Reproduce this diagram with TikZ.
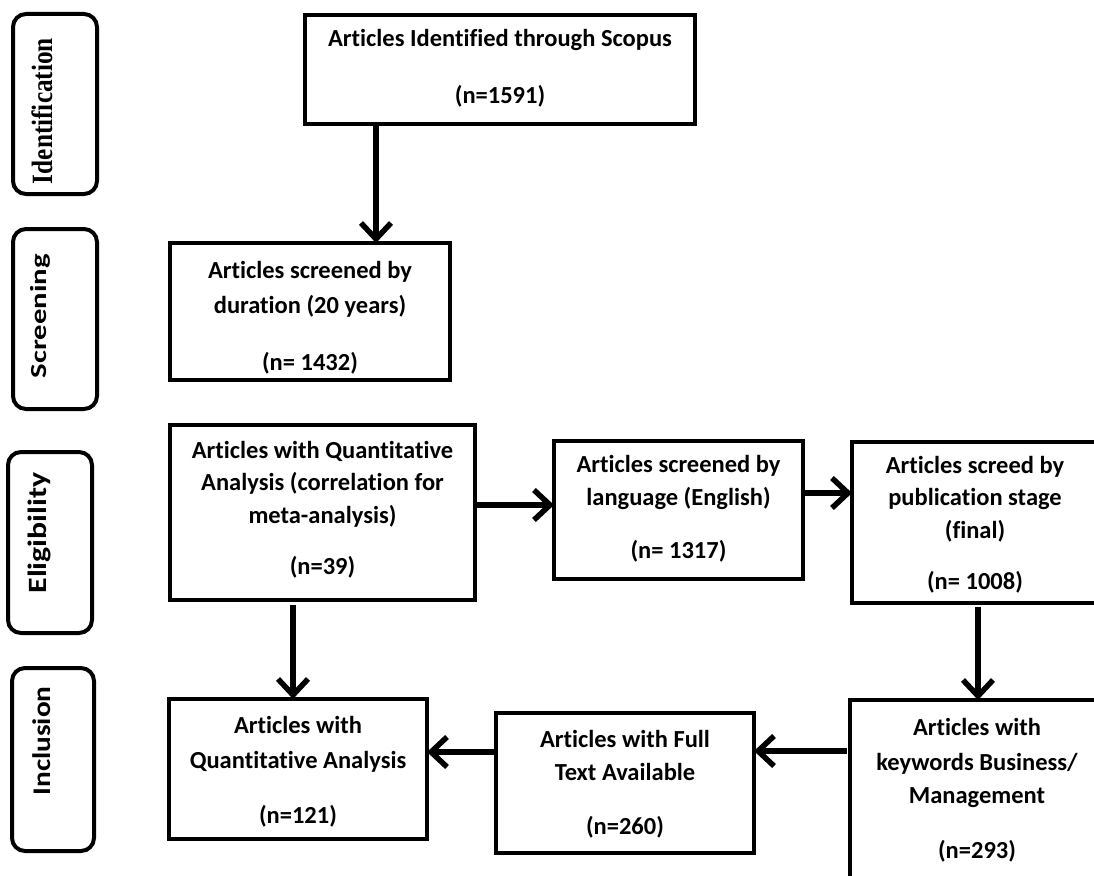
\documentclass[tikz,border=0pt]{standalone}
\usepackage{fontspec}
\setmainfont{Carlito}[Ligatures=NoCommon]
\newfontfamily\serifb{Liberation Serif}
\usetikzlibrary{arrows.meta}
\begin{document}
\begin{tikzpicture}[x=1pt,y=-1pt,
  box/.style={draw=black, line width=4pt, inner sep=0pt, outer sep=0pt},
  side/.style={draw=black, line width=4pt, rounded corners=13pt, inner sep=0pt, outer sep=0pt},
  txt/.style={inner sep=0pt, outer sep=0pt, anchor=base, font=\fontsize{24.5}{28}\selectfont\bfseries, text=black},
  stxt/.style={inner sep=0pt, outer sep=0pt, rotate=90, text=black},
  arr/.style={line width=5.5pt, -{Straight Barb[length=16pt,width=30pt]}}]
\useasboundingbox[fill=white] (0,0) rectangle (1094,875);
\clip (0,0) rectangle (1094,875);

% side labels
\node[side, minimum width=84pt, minimum height=180pt] (sIdent) at (55,104) {};
\node[side, minimum width=84pt, minimum height=180pt] (sScreen) at (55,319) {};
\node[side, minimum width=84pt, minimum height=181pt] (sElig) at (50,542.5) {};
\node[side, minimum width=82pt, minimum height=183pt] (sIncl) at (53,759.5) {};
\node[stxt] (tIdent) at (42,111) {\resizebox*{146pt}{21pt}{\serifb\bfseries Identification}};
\node[stxt] (tScreen) at (40,316) {\resizebox*{124pt}{20pt}{\bfseries Screening}};
\node[stxt] (tElig) at (39,533) {\resizebox*{121pt}{23pt}{\bfseries Eligibility}};
\node[stxt] (tIncl) at (41.5,741) {\resizebox*{109pt}{18pt}{\bfseries Inclusion}};

% boxes
\node[box, minimum width=390pt, minimum height=109pt] (scopus) at (500,69.5) {};
\node[box, minimum width=280pt, minimum height=137pt] (dur) at (310,311.5) {};
\node[box, minimum width=305pt, minimum height=175pt] (qa1) at (322.5,512.5) {};
\node[box, minimum width=249pt, minimum height=138pt] (lang) at (678.5,510) {};
\node[box, minimum width=248pt, minimum height=161pt] (pub) at (976,522.5) {};
\node[box, minimum width=254pt, minimum height=200pt] (kw) at (977,800) {};
\node[box, minimum width=258pt, minimum height=140pt] (full) at (625,783) {};
\node[box, minimum width=258pt, minimum height=140pt] (qa2) at (298,769) {};

% texts
\node[txt] (scopus1) at (500,47) {Articles Identified through Scopus};
\node[txt] (scopus2) at (500,103) {(n=1591)};
\node[txt] (dur1) at (310,278) {Articles screened by};
\node[txt] (dur2) at (310,313) {duration (20 years)};
\node[txt] (dur3) at (310,370) {(n= 1432)};
\node[txt] (qa11) at (322.5,458) {Articles with Quantitative};
\node[txt] (qa12) at (322.5,490) {Analysis (correlation for};
\node[txt] (qa13) at (322.5,523) {meta-analysis)};
\node[txt] (qa14) at (322.5,574) {(n=39)};
\node[txt] (lang1) at (678.5,472) {Articles screened by};
\node[txt] (lang2) at (678.5,505) {language (English)};
\node[txt] (lang3) at (678.5,558) {(n= 1317)};
\node[txt] (pub1) at (975,473) {Articles screed by};
\node[txt] (pub2) at (975,505) {publication stage};
\node[txt] (pub3) at (975,538) {(final)};
\node[txt] (pub4) at (975,589) {(n= 1008)};
\node[txt] (kw1) at (977,735) {Articles with};
\node[txt] (kw2) at (977,770) {keywords Business/};
\node[txt] (kw3) at (977,803) {Management};
\node[txt] (kw4) at (977,858) {(n=293)};
\node[txt] (full1) at (625,747) {Articles with Full};
\node[txt] (full2) at (625,780) {Text Available};
\node[txt] (full3) at (625,834) {(n=260)};
\node[txt] (qa21) at (298,733) {Articles with};
\node[txt] (qa22) at (298,768) {Quantitative Analysis};
\node[txt] (qa23) at (298,823) {(n=121)};

% connectors
\draw[arr] ([xshift=-124pt]scopus.south) -- ([xshift=66pt]dur.north);
\draw[arr] ([yshift=7.5pt]qa1.east) -- ([yshift=5pt]lang.west);
\draw[arr] ([yshift=17pt]lang.east) -- ([yshift=29.5pt]pub.west);
\draw[arr, shorten <=4pt] ([xshift=2pt]pub.south) -- ([xshift=1pt]kw.north);
\draw[arr, shorten <=3pt] ([yshift=49pt]kw.west) -- ([yshift=32pt]full.east);
\draw[arr] ([yshift=31pt]full.west) -- ([yshift=17pt]qa2.east);
\draw[arr, shorten <=5pt] ([xshift=-29.5pt]qa1.south) -- ([xshift=-5pt]qa2.north);
\end{tikzpicture}
\end{document}
